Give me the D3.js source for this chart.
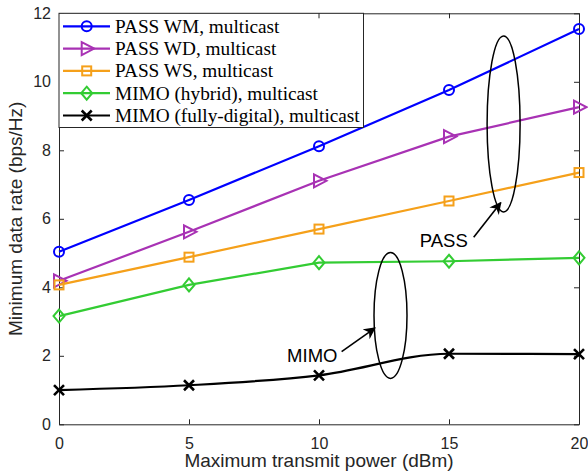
<!DOCTYPE html>
<html><head><meta charset="utf-8">
<script src="https://cdn.jsdelivr.net/npm/d3@7"></script>
<style>body{margin:0;background:#fff}svg{display:block}</style>
</head><body>
<svg id="c" width="588" height="475"></svg>
<script>
const powers = [0, 5, 10, 15, 20];
const passWM = [5.04, 6.55, 8.12, 9.76, 11.54];
const passWD = [4.19, 5.62, 7.11, 8.40, 9.26];
const passWS = [4.07, 4.88, 5.70, 6.52, 7.35];
const mimoHybrid = [3.16, 4.07, 4.72, 4.76, 4.86];
const mimoDigital = [1.00, 1.14, 1.43, 2.06, 2.05];
const seriesNames = ["PASS WM, multicast","PASS WD, multicast","PASS WS, multicast","MIMO (hybrid), multicast","MIMO (fully-digital), multicast"];
const xTicks = [0,5,10,15,20];
const yTicks = [0,2,4,6,8,10,12];
const xLabel = "Maximum transmit power (dBm)";
const yLabel = "Minimum data rate (bps/Hz)";

const colors = ["#0000ff","#a832b4","#f5a01a","#33cc33","#000000"];
const markers = ["circle","triR","square","diamond","cross"];
const data = [passWM, passWD, passWS, mimoHybrid, mimoDigital];

const svg = d3.select("#c");
const L=59, R=579, T=13.3, B=424.3;
const x = d3.scaleLinear().domain([0,20]).range([L,R]);
const y = d3.scaleLinear().domain([0,12]).range([B,T]);
const axisColor = "#262626";

const gx = svg.append("g").attr("transform",`translate(0,${B})`)
  .call(d3.axisBottom(x).tickValues(xTicks).tickSizeInner(-5).tickSizeOuter(0).tickPadding(13));
const gy = svg.append("g").attr("transform",`translate(${L},0)`)
  .call(d3.axisLeft(y).tickValues(yTicks).tickSizeInner(-5).tickSizeOuter(0).tickPadding(8));
const gx2 = svg.append("g").attr("transform",`translate(0,${T})`)
  .call(d3.axisTop(x).tickValues(xTicks).tickSizeInner(-5).tickSizeOuter(0).tickFormat(""));
const gy2 = svg.append("g").attr("transform",`translate(${R},0)`)
  .call(d3.axisRight(y).tickValues(yTicks).tickSizeInner(-5).tickSizeOuter(0).tickFormat(""));
[gx,gy,gx2,gy2].forEach(g=>{
  g.selectAll("path,line").attr("stroke",axisColor).attr("stroke-width",1);
  g.selectAll("text").attr("fill",axisColor).attr("font-family","'Liberation Sans',Arial,sans-serif").attr("font-size",16);
});

svg.append("text").attr("x",(L+R)/2).attr("y",467).attr("text-anchor","middle")
  .attr("font-family","'Liberation Sans',Arial,sans-serif").attr("font-size",19).attr("fill",axisColor).text(xLabel);
svg.append("text").attr("transform",`translate(22,${(T+B)/2}) rotate(-90)`).attr("text-anchor","middle")
  .attr("font-family","'Liberation Sans',Arial,sans-serif").attr("font-size",19).attr("fill",axisColor).text(yLabel);

function drawMarker(g, type, cx, cy, color){
  const s = {fill:"none", stroke:color, "stroke-width":2};
  let el;
  if(type==="circle") el = g.append("circle").attr("cx",cx).attr("cy",cy).attr("r",5);
  else if(type==="square") el = g.append("rect").attr("x",cx-4.5).attr("y",cy-4.5).attr("width",9).attr("height",9);
  else if(type==="diamond") el = g.append("path").attr("d",`M${cx},${cy-6.5}L${cx+5.5},${cy}L${cx},${cy+6.5}L${cx-5.5},${cy}Z`);
  else if(type==="triR") el = g.append("path").attr("d",`M${cx-5},${cy-6.5}L${cx+7.5},${cy}L${cx-5},${cy+6.5}Z`);
  else if(type==="cross") { el = g.append("path").attr("d",`M${cx-5},${cy-5}L${cx+5},${cy+5}M${cx-5},${cy+5}L${cx+5},${cy-5}`); s["stroke-width"]=2.6; }
  Object.entries(s).forEach(([k,v])=>el.attr(k,v));
}

const lineLin = d3.line().x((d,i)=>x(powers[i])).y(d=>y(d));
const lineSmooth = d3.line().x((d,i)=>x(powers[i])).y(d=>y(d)).curve(d3.curveMonotoneX);
const plot = svg.append("g");
data.forEach((vals,k)=>{
  const ln = (k===4) ? lineSmooth : lineLin;
  plot.append("path").attr("d",ln(vals)).attr("fill","none").attr("stroke",colors[k]).attr("stroke-width",2.2);
  vals.forEach((v,i)=>drawMarker(plot, markers[k], x(powers[i]), y(v), colors[k]));
});

const ann = svg.append("g").attr("stroke","#000").attr("fill","none");
ann.append("ellipse").attr("cx",x(17.1)).attr("cy",y(8.77)).attr("rx",16.5).attr("ry",88).attr("stroke-width",1.5);
ann.append("ellipse").attr("cx",x(12.75)).attr("cy",y(3.18)).attr("rx",16.5).attr("ry",63).attr("stroke-width",1.5);
svg.append("defs").append("marker").attr("id","ah").attr("viewBox","0 0 10 10").attr("refX",9).attr("refY",5)
  .attr("markerWidth",12).attr("markerHeight",12).attr("markerUnits","userSpaceOnUse").attr("orient","auto")
  .append("path").attr("d","M0,0L10,5L0,10L3,5Z").attr("fill","#000");
ann.append("line").attr("x1",x(15.95)).attr("y1",y(5.46)).attr("x2",x(16.99)).attr("y2",y(6.47)).attr("stroke-width",1.6).attr("marker-end","url(#ah)");
ann.append("line").attr("x1",x(10.87)).attr("y1",y(2.12)).attr("x2",x(12.15)).attr("y2",y(2.81)).attr("stroke-width",1.6).attr("marker-end","url(#ah)");
svg.append("text").attr("x",x(15.72)).attr("y",y(5.19)).attr("text-anchor","end").attr("font-family","'Liberation Sans',Arial,sans-serif").attr("font-size",18.5).attr("fill","#000").text("PASS");
svg.append("text").attr("x",x(10.71)).attr("y",y(1.81)).attr("text-anchor","end").attr("font-family","'Liberation Sans',Arial,sans-serif").attr("font-size",18.5).attr("fill","#000").text("MIMO");

const lg = svg.append("g");
lg.append("rect").attr("x",L).attr("y",T).attr("width",304.5).attr("height",114.2).attr("fill","#fff").attr("stroke",axisColor).attr("stroke-width",1);
seriesNames.forEach((name,k)=>{
  const yy = T + 13 + k*22.3;
  lg.append("line").attr("x1",63).attr("x2",110).attr("y1",yy).attr("y2",yy).attr("stroke",colors[k]).attr("stroke-width",2.2);
  drawMarker(lg, markers[k], 86.7, yy, colors[k]);
  lg.append("text").attr("x",115).attr("y",yy+6.5).attr("font-family","'Liberation Serif','Times New Roman',serif").attr("font-size",19.3).attr("fill","#000").text(name);
});
svg.append("line").attr("x1",x(10)).attr("x2",x(10)).attr("y1",T).attr("y2",T+5).attr("stroke",axisColor);
</script>
</body></html>
